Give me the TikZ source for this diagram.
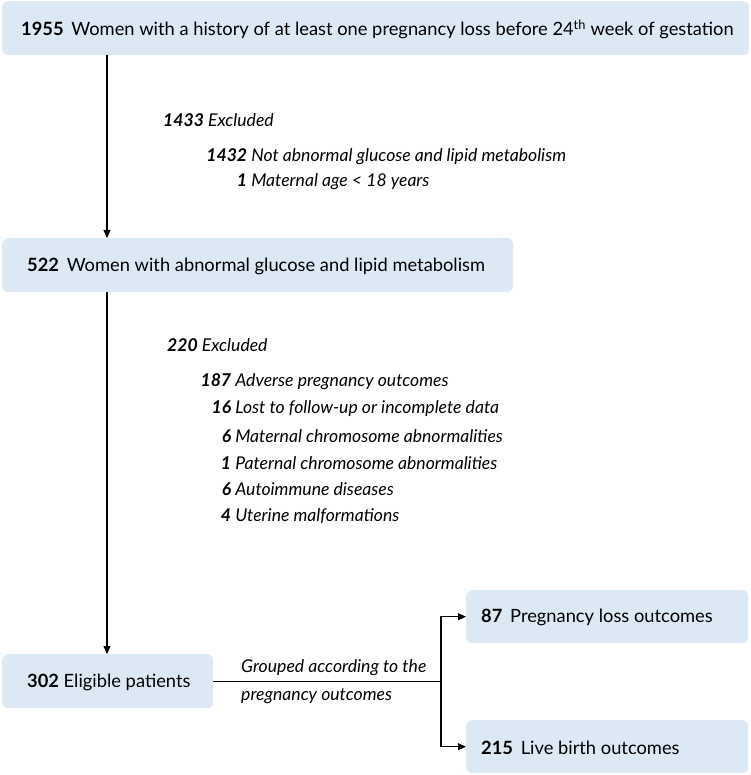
\documentclass[tikz,border=0pt]{standalone}
\usepackage{fontspec}
\setmainfont{Lato}
\usetikzlibrary{arrows.meta}
\definecolor{boxblue}{RGB}{221,232,245}
\tikzset{
  box/.style={fill=boxblue, rounded corners=6pt, anchor=north west, inner sep=0pt},
  txt/.style={anchor=west, inner sep=0pt, font=\fontsize{18.3}{22}\selectfont},
  exc/.style={anchor=west, inner sep=0pt, font=\fontsize{17.6}{21}\selectfont\itshape},
  conn/.style={line width=1.1pt},
  arr/.style={conn, -{Triangle[length=8pt,width=7pt]}}
}
\newcommand{\numr}[2]{\makebox[#1][r]{\bfseries #2}}
\begin{document}
\begin{tikzpicture}[x=1pt,y=-1pt]
\useasboundingbox (0,0) rectangle (750,775);
% boxes
\node[box, minimum width=747pt, minimum height=54pt] (b1) at (2,1) {};
\node[box, minimum width=511pt, minimum height=54pt] (b2) at (2,238) {};
\node[box, minimum width=211pt, minimum height=54pt] (b3) at (2,654) {};
\node[box, minimum width=282pt, minimum height=53pt] (b4) at (466,590) {};
\node[box, minimum width=282pt, minimum height=53pt] (b5) at (466,720) {};
% box texts
\node[txt] (t1) at ([xshift=19pt,yshift=-1pt]b1.west) {\textbf{1955}\, Women with a history of at least one pregnancy loss before 24\textsuperscript{th} week of gestation};
\node[txt] (t2) at ([xshift=25pt,yshift=-1pt]b2.west) {\textbf{522}\, Women with abnormal glucose and lipid metabolism};
\node[txt] (t3) at ([xshift=25pt,yshift=-1pt]b3.west) {\textbf{302} Eligible patients};
\node[txt] (t4) at ([xshift=15pt,yshift=-1pt]b4.west) {\textbf{87}\, Pregnancy loss outcomes};
\node[txt] (t5) at ([xshift=15pt,yshift=-1pt]b5.west) {\textbf{215}\, Live birth outcomes};
% exclusion texts
\node[exc] (x1) at (163,120) {\textbf{1433} Excluded};
\node[exc] (x11) at (208,157) {\numr{39pt}{1432} Not abnormal glucose and lipid metabolism};
\node[exc] (x12) at (208,182) {\numr{39pt}{1} Maternal age < 18 years};
\node[exc] (x2) at (167,345) {\textbf{220} Excluded};
\node[exc] (x21) at (202,382) {\numr{29pt}{187} Adverse pregnancy outcomes};
\node[exc] (x22) at (202,409) {\numr{29pt}{16} Lost to follow-up or incomplete data};
\node[exc] (x23) at (202,436) {\numr{29pt}{6} Maternal chromosome abnormalities};
\node[exc] (x24) at (202,463) {\numr{29pt}{1} Paternal chromosome abnormalities};
\node[exc] (x25) at (202,489) {\numr{29pt}{6} Autoimmune diseases};
\node[exc] (x26) at (202,516) {\numr{29pt}{4} Uterine malformations};
% connectors
\coordinate (v) at (107,0);
\coordinate (j) at (441,0);
\draw[arr] (b1.south -| v) -- (b2.north -| v);
\draw[arr] (b2.south -| v) -- (b3.north -| v);
\draw[conn] (b3.east) -- (b3.east -| j);
\draw[arr] (b3.east -| j) |- (b4.west);
\draw[arr] (b3.east -| j) |- (b5.west);
\node[exc] (g1) at (241,668) {Grouped according to the};
\node[exc] (g2) at (241,696) {pregnancy outcomes};
\end{tikzpicture}
\end{document}
